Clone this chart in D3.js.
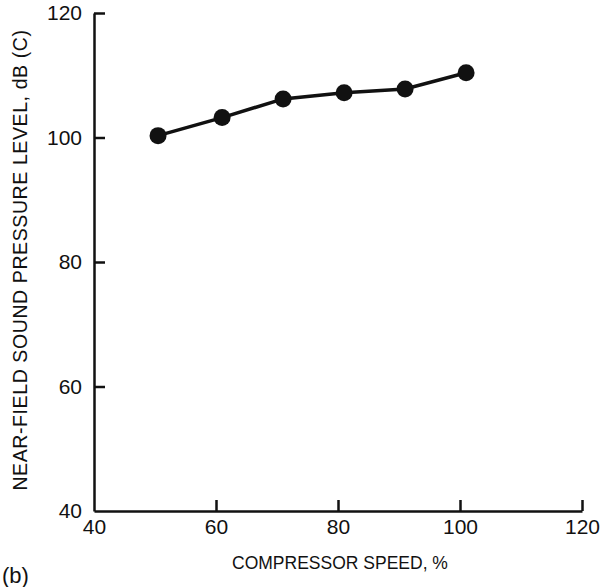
<!DOCTYPE html>
<html>
<head>
<meta charset="utf-8">
<script src="https://cdn.jsdelivr.net/npm/d3@7"></script>
<style>
  body { margin: 0; background: #fff; }
  text { font-family: "Liberation Sans", Arial, sans-serif; fill: #111; }
  .tick text { font-size: 21px; }
</style>
</head>
<body>
<div id="chart"></div>
<script>
// data
const speed = [50.5, 61, 71, 81, 91, 101];
const spl = [100.3, 103.2, 106.2, 107.2, 107.8, 110.4];
const xTicks = [40, 60, 80, 100, 120];
const yTicks = [40, 60, 80, 100, 120];

const W = 600, H = 587;
const margin = {top: 13, right: 18, bottom: 76, left: 94};
const width = W - margin.left - margin.right,
    height = H - margin.top - margin.bottom;

const svg = d3.select("#chart")
    .append("svg")
    .attr("width", W)
    .attr("height", H);

const g = svg.append("g")
    .attr("transform", `translate(${margin.left},${margin.top})`);

const x = d3.scaleLinear().domain([40, 120]).range([0, width]);
const y = d3.scaleLinear().domain([40, 120]).range([height, 0]);

// axes: ticks point inward, no domain end-caps
const xAxis = g.append("g")
    .attr("transform", `translate(0,${height})`)
    .call(d3.axisBottom(x).tickValues(xTicks).tickSizeInner(-11).tickSizeOuter(0).tickPadding(8));
const yAxis = g.append("g")
    .call(d3.axisLeft(y).tickValues(yTicks).tickSizeInner(-11).tickSizeOuter(0).tickPadding(12));

[xAxis, yAxis].forEach(a => {
  a.attr("font-size", 21).attr("font-family", "'Liberation Sans', Arial, sans-serif");
  a.select(".domain").attr("stroke", "#111").attr("stroke-width", 2.5);
  a.selectAll(".tick line").attr("stroke", "#111").attr("stroke-width", 2.5);
  a.selectAll(".tick text").attr("fill", "#111");
});
// leftmost x tick sits on the y axis, drop its line
xAxis.selectAll(".tick").filter(d => d === 40).select("line").remove();
yAxis.selectAll(".tick").filter(d => d === 40).select("line").remove();

// data line + markers
const line = d3.line()
    .x((d, i) => x(speed[i]))
    .y(d => y(d));
g.append("path")
    .datum(spl)
    .attr("d", line)
    .attr("fill", "none")
    .attr("stroke", "#111")
    .attr("stroke-width", 3.5);

g.selectAll("circle")
    .data(spl)
    .join("circle")
    .attr("cx", (d, i) => x(speed[i]))
    .attr("cy", d => y(d))
    .attr("r", 8.5)
    .attr("fill", "#111");

// axis titles
svg.append("text")
    .attr("x", 340)
    .attr("y", 569)
    .attr("text-anchor", "middle")
    .style("font-size", "17.5px")
    .text("COMPRESSOR SPEED, %");

svg.append("text")
    .attr("transform", `translate(27,${margin.top + height / 2 - 2}) rotate(-90)`)
    .attr("text-anchor", "middle")
    .style("font-size", "19.5px")
    .style("letter-spacing", "0.6px")
    .text("NEAR-FIELD SOUND PRESSURE LEVEL, dB (C)");

svg.append("text")
    .attr("x", 2)
    .attr("y", 583)
    .style("font-size", "22px")
    .text("(b)");
</script>
</body>
</html>
